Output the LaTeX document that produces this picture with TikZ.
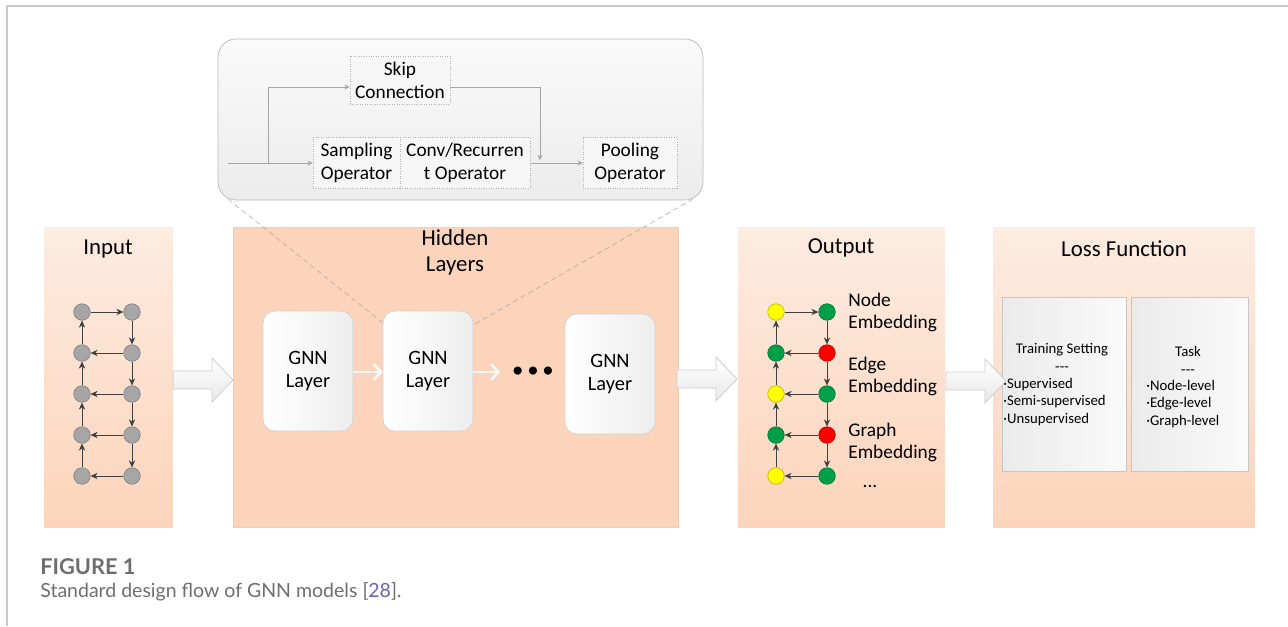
\documentclass[tikz,border=0pt]{standalone}
\usepackage{fontspec}
\setmainfont{Carlito}
\newfontfamily\capfont{Lato}
\usetikzlibrary{arrows.meta}

\definecolor{peach}{RGB}{252,212,187}
\definecolor{peachlt}{RGB}{253,236,225}
\definecolor{framegray}{RGB}{200,200,200}
\definecolor{cgry}{RGB}{166,166,166}
\definecolor{cyel}{RGB}{255,255,0}
\definecolor{cgrn}{RGB}{0,160,72}
\definecolor{cred}{RGB}{255,0,0}
\definecolor{citeblue}{RGB}{110,95,185}
\definecolor{capgray}{RGB}{110,110,110}

\tikzset{
  panel/.style={inner sep=0pt, top color=peachlt, bottom color=peach},
  title/.style={font=\fontsize{13}{14.8}\selectfont, align=center},
  gnnbox/.style={draw=gray!35, rounded corners=0.24cm, left color=white, right color=gray!14,
    minimum width=1.8cm, minimum height=2.4cm, align=center, font=\fontsize{11.6}{13.2}\selectfont},
  opbox/.style={draw=gray!60, densely dotted, fill=gray!7, minimum height=1.02cm, align=center,
    inner sep=1pt},
  lossbox/.style={draw=gray!45, left color=gray!16, right color=gray!4, minimum width=2.4cm,
    minimum height=3.48cm},
  dot/.style={circle, inner sep=0pt, minimum size=0.33cm},
  edgearr/.style={draw=black!75, line width=0.5pt, -{Stealth[length=4pt,width=3.6pt]}},
  thinarr/.style={draw=gray!70, line width=0.4pt, -{Stealth[length=3pt,width=3pt]}},
  whitearr/.style={draw=gray!6, line width=1.6pt, -{Straight Barb[length=4pt,width=9pt]}},
  bigarrow/.style={draw=gray!40, top color=white, bottom color=gray!18, line width=0.4pt},
  small/.style={font=\fontsize{8.4}{10.1}\selectfont}
}

\begin{document}
\begin{tikzpicture}[x=0.02cm, y=-0.02cm, font=\fontsize{11}{13}\selectfont]
\useasboundingbox (0,0) rectangle (1288,626);
\draw[framegray, line width=0.04cm] (7,626) -- (7,5.5) -- (1288,5.5);

% panels
\node[panel, minimum width=2.58cm, minimum height=6.02cm] (inp) at (108.5,377.5) {};
\node[inner sep=0pt, fill=peach, draw=peach!92!gray, minimum width=8.9cm, minimum height=6.0cm] (hid) at (455.5,377) {};
\node[panel, minimum width=4.14cm, minimum height=6.02cm] (outp) at (841.5,377.5) {};
\node[panel, minimum width=5.24cm, minimum height=6.02cm] (loss) at (1124,377.5) {};

\node[title] (tinp) at (108,249) {Input};
\node[title] (thid) at (455,252) {Hidden\\Layers};
\node[title] (tout) at (841,248) {Output};
\node[title] (tloss) at (1124,249) {Loss Function};

% input graph
\foreach \r in {1,...,5}{
  \node[dot, fill=cgry, draw=cgry!80!black] (il\r) at (82,{271+41*\r}) {};
  \node[dot, fill=cgry, draw=cgry!80!black] (ir\r) at (132,{271+41*\r}) {};
}
\draw[edgearr] (il1) -- (ir1);
\foreach \r/\s in {1/2,2/3,3/4,4/5}{
  \draw[edgearr] (ir\r) -- (ir\s);
  \draw[edgearr] (ir\s) -- (il\s);
  \draw[edgearr] (il\s) -- (il\r);
}

% zoom lines
\draw[gray!70, densely dashed, line width=0.3pt] (228,199) -- (383,323);
\draw[gray!70, densely dashed, line width=0.3pt] (693,199) -- (475,324);

% hidden layers
\node[gnnbox] (gl1) at (308,371) {GNN\\Layer};
\node[gnnbox] (gl2) at (428,371) {GNN\\Layer};
\node[gnnbox] (gl3) at (610,374) {GNN\\Layer};
\node[font=\fontsize{13}{13}\selectfont, inner sep=1pt] (dots) at (533,372) {•\,•\,•};
\draw[whitearr] (gl1.east |- 0,372) -- (gl2.west |- 0,372);
\draw[whitearr] (gl2.east |- 0,372) -- (500,372);

% zoomed layer
\node[draw=gray!55, rounded corners=0.36cm, top color=gray!4, bottom color=gray!15,
  minimum width=9.7cm, minimum height=3.22cm] (popup) at (460.5,119.5) {};
\node[opbox, minimum width=2.0cm, minimum height=0.96cm] (skip) at (400,80) {Skip\\Connection};
\node[opbox, minimum width=1.74cm] (samp) at (356.5,163) {Sampling\\Operator};
\node[opbox, minimum width=2.6cm] (conv) at (465,163) {Conv/Recurren\\t Operator};
\node[opbox, minimum width=1.88cm] (pool) at (630,163) {Pooling\\Operator};
\coordinate (pin) at (228,163);
\coordinate (mrg) at (540,163);
\draw[thinarr] (pin) -- (samp.west);
\draw[thinarr] (268,163) |- ([yshift=-0.14cm]skip.west);
\draw[thinarr] ([yshift=-0.14cm]skip.east) -| ([yshift=0.06cm]mrg);
\draw[thinarr] (conv.east) -- (pool.west);

% output graph
\foreach \r/\cl/\cr in {1/cyel/cgrn, 2/cgrn/cred, 3/cyel/cgrn, 4/cgrn/cred, 5/cyel/cgrn}{
  \node[dot, fill=\cl, draw=\cl!75!black] (ol\r) at (776,{271+41*\r}) {};
  \node[dot, fill=\cr, draw=\cr!75!black] (or\r) at (827,{271+41*\r}) {};
}
\draw[edgearr] (ol1) -- (or1);
\foreach \r/\s in {1/2,2/3,3/4,4/5}{
  \draw[edgearr] (or\r) -- (or\s);
  \draw[edgearr] (or\s) -- (ol\s);
  \draw[edgearr] (ol\s) -- (ol\r);
}
\node[anchor=west, align=left, inner sep=0pt] (lnode) at (848,312.5) {Node\\Embedding};
\node[anchor=west, align=left, inner sep=0pt] (ledge) at (848,376.5) {Edge\\Embedding};
\node[anchor=west, align=left, inner sep=0pt] (lgraph) at (848,442.5) {Graph\\Embedding};
\node (lmore) at (870,486) {...};

% loss function
\node[lossbox, minimum width=2.48cm] (train) at (1064,384) {};
\node[lossbox, minimum width=2.34cm] (task) at (1189.5,384) {};
\node[small, align=center] (ttrain) at (1062,357.5) {Training Setting\\{-}{-}{-}};
\node[small, align=left, anchor=west, inner sep=0pt] (ltrain) at (1003,402) {·Supervised\\·Semi-supervised\\·Unsupervised};
\node[small, align=center] (ttask) at (1188,360) {Task\\{-}{-}{-}};
\node[small, align=left, anchor=west, inner sep=0pt] (ltask) at (1146,404) {·Node-level\\·Edge-level\\·Graph-level};

% big arrows
\foreach \ax/\ay in {173/380, 677/379, 946/381}
  \draw[bigarrow] (\ax,\ay-9) -- ++(39,0) -- ++(0,-13) -- ++(21,22) -- ++(-21,22) -- ++(0,-13) -- ++(-39,0) -- cycle;

% caption
\node[anchor=base west, inner sep=0pt, font=\capfont\bfseries\fontsize{12.4}{14}\selectfont, text=capgray] (fig) at (40,574) {FIGURE 1};
\node[anchor=base west, inner sep=0pt, font=\capfont\fontsize{11.1}{13}\selectfont, text=capgray] (cap) at (40,597) {Standard design flow of GNN models [\textcolor{citeblue}{28}].};
\end{tikzpicture}
\end{document}
